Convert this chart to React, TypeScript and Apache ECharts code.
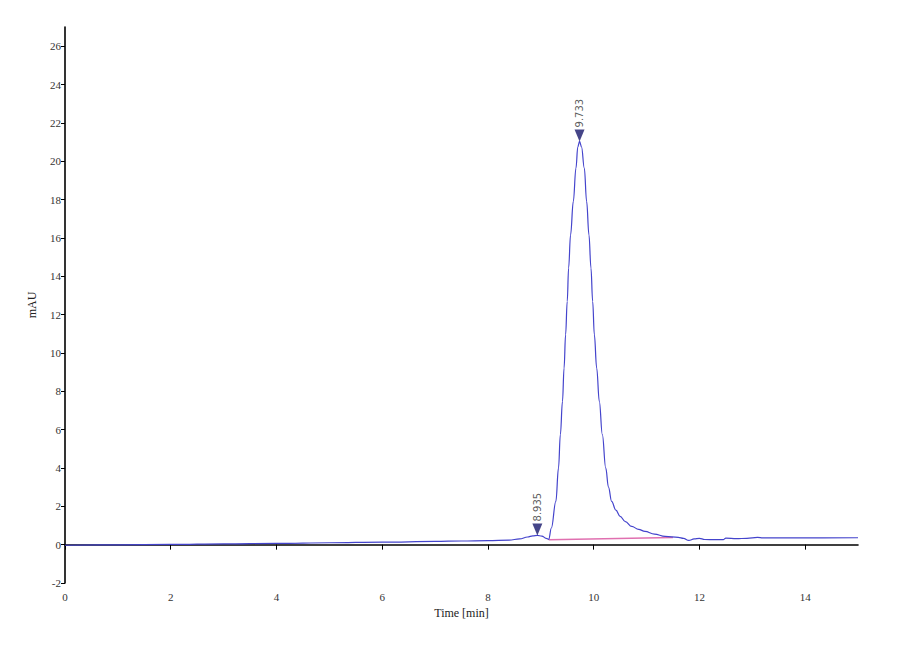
import * as echarts from "echarts";
import { FC, useEffect, useRef } from "react";

// retention time (min) and absorbance (mAU)
const traceTime: number[] = [
  0, 1, 2, 3, 4, 5, 6, 7, 7.5, 8, 8.4, 8.6, 8.75, 8.85, 8.935, 9.02, 9.1, 9.15,
  9.2, 9.285, 9.335, 9.37, 9.41, 9.44, 9.469, 9.5, 9.526, 9.563, 9.615, 9.665,
  9.7, 9.733, 9.77, 9.823, 9.867, 9.911, 9.949, 9.981, 10.013, 10.057, 10.107,
  10.164, 10.228, 10.28, 10.34, 10.42, 10.5, 10.6, 10.72, 10.85, 10.97, 11.15,
  11.35, 11.6, 11.7, 11.8, 11.9, 12, 12.1, 12.3, 12.45, 12.5, 12.7, 12.9, 13.1,
  13.2, 14, 15,
];
const traceValue: number[] = [
  -0.03, -0.01, 0.01, 0.04, 0.07, 0.1, 0.13, 0.17, 0.19, 0.21, 0.24, 0.3, 0.4,
  0.46, 0.48, 0.45, 0.33, 0.28, 0.87, 2.26, 4.0, 5.74, 7.47, 9.21, 10.95, 12.69,
  14.43, 16.16, 17.9, 19.64, 20.75, 21.03, 20.75, 19.64, 17.9, 16.16, 14.43,
  12.69, 10.95, 9.21, 7.47, 5.74, 4.0, 3.0, 2.26, 1.8, 1.48, 1.2, 0.95, 0.8,
  0.69, 0.55, 0.43, 0.38, 0.33, 0.22, 0.3, 0.33, 0.27, 0.26, 0.26, 0.34, 0.31,
  0.33, 0.38, 0.35, 0.35, 0.36,
];

// integration baseline under the main peak
const baselineTime: number[] = [9.15, 11.5];
const baselineValue: number[] = [0.26, 0.37];

// detected peaks
const peakTime: number[] = [8.935, 9.733];
const peakValue: number[] = [0.48, 21.03];

const xTicks: number[] = [0, 2, 4, 6, 8, 10, 12, 14];
const yTicks: number[] = [-2, 0, 2, 4, 6, 8, 10, 12, 14, 16, 18, 20, 22, 24, 26];

const serif = "'Liberation Serif', 'Times New Roman', serif";

const getOptions = (): echarts.EChartsOption => {
  return {
    animation: false,
    backgroundColor: "#ffffff",
    grid: { left: 65, right: 42, top: 27, bottom: 77 },
    xAxis: {
      type: "value",
      min: 0,
      max: 15,
      name: "Time [min]",
      nameLocation: "middle",
      nameGap: 22,
      nameTextStyle: { fontFamily: serif, fontSize: 12, color: "#222" },
      splitLine: { show: false },
      axisLine: { lineStyle: { color: "#000", width: 1.6 } },
      axisTick: { length: 5, lineStyle: { color: "#000" }, customValues: xTicks },
      axisLabel: {
        customValues: xTicks,
        margin: 8,
        fontFamily: serif,
        fontSize: 11,
        color: "#333",
      },
    },
    yAxis: {
      type: "value",
      min: -2,
      max: 27,
      name: "mAU",
      nameLocation: "middle",
      nameGap: 27,
      nameRotate: 90,
      nameTextStyle: { fontFamily: serif, fontSize: 12, color: "#222" },
      splitLine: { show: false },
      axisLine: { show: true, lineStyle: { color: "#000", width: 1.6 } },
      axisTick: { show: true, length: 4, lineStyle: { color: "#000" }, customValues: yTicks },
      axisLabel: {
        customValues: yTicks,
        margin: 4,
        fontFamily: serif,
        fontSize: 11,
        color: "#333",
      },
    },
    series: [
      {
        name: "baseline",
        type: "line",
        data: baselineTime.map((t, i) => [t, baselineValue[i]]),
        showSymbol: false,
        lineStyle: { color: "#e070b0", width: 1.5 },
        z: 1,
      },
      {
        name: "signal",
        type: "line",
        data: traceTime.map((t, i) => [t, traceValue[i]]),
        showSymbol: false,
        smooth: 0.4,
        smoothMonotone: "x",
        lineStyle: { color: "#4444cc", width: 1.2 },
        z: 2,
      },
      {
        name: "peaks",
        type: "scatter",
        data: peakTime.map((t, i) => [t, peakValue[i]]),
        symbol: "triangle",
        symbolRotate: 180,
        symbolSize: [10, 12],
        symbolOffset: [0, -6],
        itemStyle: { color: "#16166a" },
        label: {
          show: true,
          position: "top",
          distance: 2,
          rotate: 90,
          align: "left",
          verticalAlign: "middle",
          fontFamily: "'DejaVu Sans', sans-serif",
          fontSize: 10,
          color: "#333",
          formatter: (p: any) => p.value[0].toFixed(3),
        },
        z: 3,
      },
    ],
  };
};

const App: FC = () => {
  const chartRef = useRef<HTMLDivElement | null>(null);

  useEffect(() => {
    if (!chartRef.current) return;
    const chart = echarts.init(chartRef.current, undefined, { renderer: "svg" });
    chart.setOption(getOptions());
    return () => {
      chart.dispose();
    };
  }, []);

  return (
    <div
      ref={chartRef}
      style={{ position: "absolute", left: 0, top: 0, width: 900, height: 660, background: "#fff" }}
    />
  );
};

export default App;
